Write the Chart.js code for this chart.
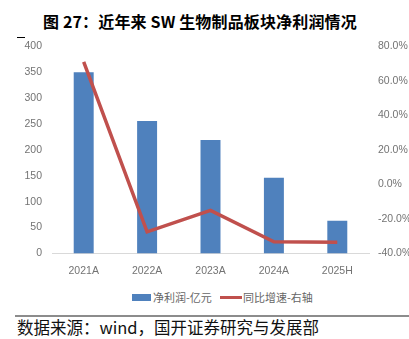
<!DOCTYPE html>
<html>
<head>
<meta charset="utf-8">
<script src="https://cdn.jsdelivr.net/npm/chart.js@4"></script>
<style>
  body { margin: 0; width: 409px; height: 339px; background: #fff; position: relative; overflow: hidden; }
  #title { position: absolute; left: 43px; top: 9px; font: bold 16px "Noto Sans CJK SC", sans-serif; color: #000; white-space: nowrap; letter-spacing: 0.15px; }
  #dash { position: absolute; left: 17px; top: 37px; width: 8px; height: 1px; background: #000; }
  #box { position: absolute; left: 0; top: 30px; width: 409px; height: 255px; }
  #legend { position: absolute; left: 0; top: 289px; width: 409px; height: 16px; font: 11px "Noto Sans CJK SC", sans-serif; color: #666; }
  .lg { position: absolute; top: 0; white-space: nowrap; line-height: 16px; }
  .sw { position: absolute; }
  #rule { position: absolute; left: 15px; top: 315px; width: 394px; height: 1.5px; background: #8c8c8c; }
  #source { position: absolute; left: 17px; top: 315px; font: 16.5px "Noto Sans CJK SC", sans-serif; color: #111; white-space: nowrap; }
</style>
</head>
<body>
<div id="title">图 27：近年来 SW 生物制品板块净利润情况</div>
<div id="dash"></div>
<div id="box"><canvas id="chart"></canvas></div>
<div id="legend"></div>
<div id="rule"></div>
<div id="source">数据来源：wind，国开证券研究与发展部</div>
<script>
// 数据
const years = ["2021A", "2022A", "2023A", "2024A", "2025H"];
const netProfit = [350, 256, 219, 146, 63];          // 净利润-亿元
const growthRate = [71, -27.5, -15, -33.2, -33.5];    // 同比增速(%)-右轴
const barName = "净利润-亿元";
const lineName = "同比增速-右轴";
const barColor = "#4f81bd";
const lineColor = "#c0504d";

const tickFont = { family: "'Liberation Sans Narrow', 'Liberation Sans', sans-serif", size: 10.5 };
const tickColor = "#737373";

const ctx = document.getElementById("chart").getContext("2d");
new Chart(ctx, {
  data: {
    labels: years,
    datasets: [
      {
        type: "line",
        label: lineName,
        data: growthRate,
        yAxisID: "y1",
        borderColor: lineColor,
        borderWidth: 3.5,
        tension: 0,
        pointRadius: 0,
        order: 1
      },
      {
        type: "bar",
        label: barName,
        data: netProfit,
        yAxisID: "y",
        backgroundColor: barColor,
        categoryPercentage: 1,
        barPercentage: 0.315,
        order: 2
      }
    ]
  },
  options: {
    responsive: true,
    maintainAspectRatio: false,
    animation: false,
    layout: { padding: { top: 15, left: 0, right: 0, bottom: 0 } },
    plugins: { legend: { display: false }, tooltip: { enabled: false } },
    scales: {
      x: {
        grid: { display: false, drawTicks: false },
        border: { color: "#d9d9d9", width: 1 },
        ticks: { font: tickFont, color: tickColor, padding: 11 },
        afterFit: (s) => { s.height = 31.5; }
      },
      y: {
        position: "left",
        min: 0, max: 400,
        grid: { display: false, drawTicks: false },
        border: { display: false },
        ticks: { stepSize: 50, font: tickFont, color: tickColor, padding: 10 },
        afterFit: (s) => { s.width = 52; }
      },
      y1: {
        position: "right",
        min: -40, max: 80,
        grid: { display: false, drawTicks: false },
        border: { display: false },
        ticks: { stepSize: 20, font: tickFont, color: tickColor, padding: 9,
          callback: (v) => v.toFixed(1) + "%" },
        afterFit: (s) => { s.width = 40; }
      }
    }
  }
});

// 图例
const legend = document.getElementById("legend");
legend.innerHTML =
  '<div class="sw" style="left:132px;top:5px;width:19px;height:7px;background:' + barColor + '"></div>' +
  '<div class="lg" style="left:153px">' + barName + '</div>' +
  '<div class="sw" style="left:220px;top:7px;width:22px;height:3px;background:' + lineColor + '"></div>' +
  '<div class="lg" style="left:243px">' + lineName + '</div>';
</script>
</body>
</html>
